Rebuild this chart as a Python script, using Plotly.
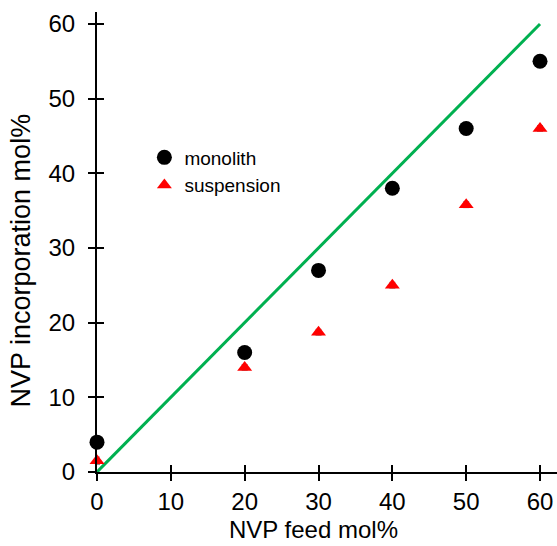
import plotly.graph_objects as go

feed = [0, 20, 30, 40, 50, 60]
monolith = [4, 16, 27, 38, 46, 55]
monolith_err = [0.8, 0.6, 0.6, 0.6, 0.6, 0.6]
suspension = [1.5, 14, 18.7, 25, 35.8, 46]
suspension_err = [0.5, 0.4, 0.4, 0.4, 0.4, 0.4]
ideal_x = [0, 60]
ideal_y = [0, 60]
tickvals = [0, 10, 20, 30, 40, 50, 60]
x_title = "NVP feed mol%"
y_title = "NVP incorporation mol%"

FAM = "Liberation Sans, Arial, sans-serif"

fig = go.Figure()
fig.add_trace(go.Scatter(x=ideal_x, y=ideal_y, mode="lines",
                         line=dict(color="#00b050", width=3), showlegend=False,
                         cliponaxis=False))
fig.add_trace(go.Scatter(x=feed, y=monolith, mode="markers", name="monolith",
                         marker=dict(symbol="circle", size=15, color="black"),
                         error_y=dict(type="data", array=monolith_err, color="#909090",
                                      thickness=1, width=3),
                         cliponaxis=False))
fig.add_trace(go.Scatter(x=feed, y=suspension, mode="markers", name="suspension",
                         marker=dict(symbol="triangle-up", size=13, color="#ff0000"),
                         error_y=dict(type="data", array=suspension_err, color="#909090",
                                      thickness=1, width=3),
                         cliponaxis=False))
fig.add_trace(go.Scatter(x=[None], y=[None], xaxis="x2", yaxis="y2", showlegend=False))

tickfont = dict(family=FAM, size=24, color="black")
axis_common = dict(tickvals=tickvals, showgrid=False, zeroline=False,
                   showline=True, linecolor="black", linewidth=2,
                   ticks="outside", ticklen=7, tickwidth=2, tickcolor="black",
                   tickfont=tickfont)
fig.update_layout(
    width=557, height=546,
    margin=dict(l=97, r=0, t=12, b=74),
    paper_bgcolor="white", plot_bgcolor="white",
    font=dict(family=FAM, size=19, color="black"),
    xaxis=dict(range=[0, 62.3], ticklabelstandoff=0, **axis_common),
    yaxis=dict(range=[0, 61.6], ticklabelstandoff=8, **axis_common),
    xaxis2=dict(overlaying="x", anchor="y", side="bottom", range=[0, 62.3],
                tickvals=tickvals, showticklabels=False, showgrid=False, zeroline=False,
                ticks="inside", ticklen=7, tickwidth=2, tickcolor="black"),
    yaxis2=dict(overlaying="y", anchor="x", side="left", range=[0, 61.6],
                tickvals=tickvals, showticklabels=False, showgrid=False, zeroline=False,
                ticks="inside", ticklen=7, tickwidth=2, tickcolor="black"),
    legend=dict(x=0.103, y=0.725, xanchor="left", yanchor="top",
                font=dict(family=FAM, size=19, color="black"),
                bgcolor="rgba(0,0,0,0)", itemwidth=30, tracegroupgap=0),
    annotations=[
        dict(text=x_title, xref="paper", yref="paper", x=0.47, y=-0.124,
             xanchor="center", yanchor="middle", showarrow=False,
             font=dict(family=FAM, size=24, color="black")),
        dict(text=y_title, xref="paper", yref="paper", x=-0.165, y=0.46,
             xanchor="center", yanchor="middle", textangle=-90, showarrow=False,
             font=dict(family=FAM, size=27, color="black")),
    ],
)
fig.write_html("out.html")
